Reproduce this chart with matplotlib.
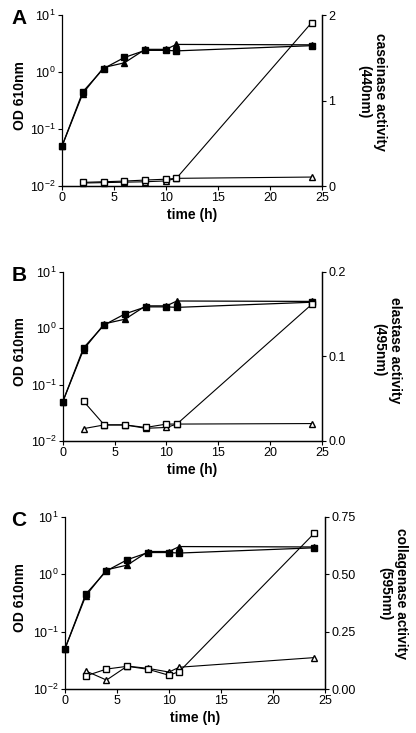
import matplotlib.pyplot as plt
from matplotlib.ticker import LogLocator, NullLocator

plt.rcParams["font.family"] = ["Liberation Sans", "DejaVu Sans"]

# Data
time = [0, 2, 4, 6, 8, 10, 11, 24]
time_act = [2, 4, 6, 8, 10, 11, 24]

od_square = [0.05, 0.45, 1.15, 1.8, 2.4, 2.4, 2.35, 2.9]
od_triangle = [0.05, 0.42, 1.2, 1.45, 2.5, 2.5, 3.05, 3.0]

case_square = [0.043, 0.05, 0.058, 0.07, 0.08, 0.09, 1.91]
case_triangle = [0.035, 0.04, 0.045, 0.05, 0.06, 0.09, 0.105]

elas_square = [0.047, 0.019, 0.019, 0.016, 0.020, 0.020, 0.1615]
elas_triangle = [0.0146, 0.019, 0.019, 0.015, 0.016, 0.020, 0.0206]

coll_square = [0.057, 0.087, 0.099, 0.086, 0.060, 0.076, 0.68]
coll_triangle = [0.079, 0.039, 0.100, 0.090, 0.074, 0.095, 0.137]

W, H = 416, 733

# letter, axes rect, activity series, right label, its x/y centre (px), right axis
panels = [
    ("A", [0.149, 0.7462, 0.625, 0.2333], case_square, case_triangle,
     "caseinase activity\n(440nm)", (372, 92), (0, 2), [0, 1, 2], ["0", "1", "2"]),
    ("B", [0.151, 0.3984, 0.623, 0.2306], elas_square, elas_triangle,
     "elastase activity\n(495nm)", (387, 350), (0, 0.2), [0, 0.1, 0.2],
     ["0.0", "0.1", "0.2"]),
    ("C", [0.156, 0.0600, 0.625, 0.2347], coll_square, coll_triangle,
     "collagenase activity\n(595nm)", (393, 594), (0, 0.75), [0, 0.25, 0.5, 0.75],
     ["0.00", "0.25", "0.50", "0.75"]),
]

fig = plt.figure(figsize=(W / 100, H / 100), dpi=100)

for letter, rect, sq, tri, rlabel, rpos, rlim, rticks, rticklabels in panels:
    ax = fig.add_axes(rect)
    ax.set_yscale("log")
    ax.set_ylim(1e-2, 1e1)
    ax.set_xlim(0, 25)
    ax.yaxis.set_major_locator(LogLocator(base=10, numticks=10))
    ax.yaxis.set_minor_locator(NullLocator())
    ax.set_xticks([0, 5, 10, 15, 20, 25])

    ax.plot(time, od_square, "-s", color="black", ms=4, lw=0.9, clip_on=False, zorder=4)
    ax.plot(time, od_triangle, "-^", color="black", ms=4.5, lw=0.9, clip_on=False, zorder=4)

    ax2 = ax.twinx()
    ax2.set_ylim(*rlim)
    ax2.set_yticks(rticks)
    ax2.set_yticklabels(rticklabels)
    ax2.plot(time_act, tri, "-^", color="black", mfc="white", ms=4.5, lw=0.8,
             clip_on=False, zorder=3)
    ax2.plot(time_act, sq, "-s", color="black", mfc="white", ms=4, lw=0.8,
             clip_on=False, zorder=4)

    for a in (ax, ax2):
        a.spines["top"].set_visible(False)
        for s in a.spines.values():
            s.set_linewidth(0.9)
        a.tick_params(direction="out", length=3, width=0.8, labelsize=9, pad=1.5)
    ax2.spines["left"].set_visible(False)

    ax.set_xlabel("time (h)", fontsize=10, fontweight="bold", labelpad=3)

    ymid = 1 - (rect[1] + rect[3] / 2)  # axes centre, fraction from top
    fig.text(20 / W, 1 - (ymid * H - 5) / H, "OD 610nm", fontsize=10,
             fontweight="bold", rotation=90, ha="center", va="center")
    fig.text(rpos[0] / W, 1 - rpos[1] / H, rlabel, fontsize=10, fontweight="bold",
             rotation=-90, ha="center", va="center", linespacing=1.2,
             multialignment="center")

    fig.text(19 / W, rect[1] + rect[3] - 0.005, letter, fontsize=15,
             fontweight="bold", ha="center", va="center")

fig.savefig("out.png", dpi=100, facecolor="white")
